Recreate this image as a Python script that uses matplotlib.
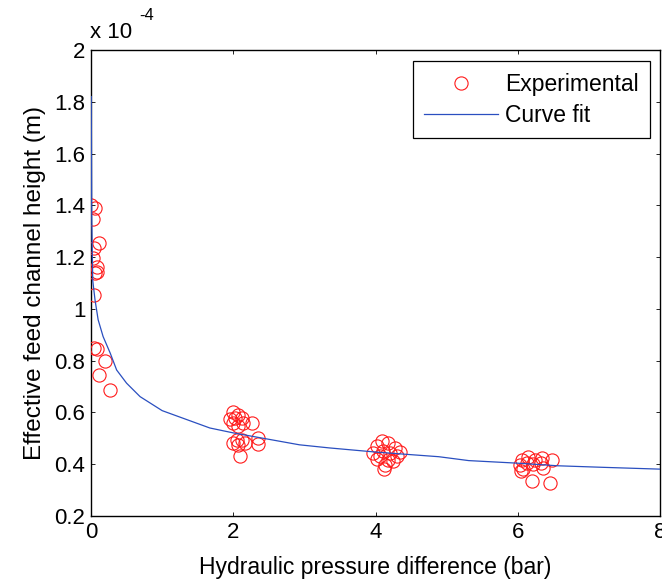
#Effective feed channel height vs hydraulic pressure difference
import matplotlib
matplotlib.use('Agg')
import matplotlib.pyplot as plt

plt.rcParams['font.family'] = ['Liberation Sans', 'DejaVu Sans']

# experimental points (pressure in bar, height in units of 1e-4 m)
exp_dp = [0.00, 0.056, 0.033, 0.117, 0.042, 0.033, 0.08, 0.089, 0.056, 0.042, 0.042, 0.08, 0.197, 0.117, 0.267,
          1.99, 1.955, 2.07, 2.025, 2.12, 2.00, 2.14, 2.26, 2.07, 2.05, 2.12, 2.00, 2.07, 2.17, 2.35, 2.35, 2.10,
          4.09, 4.18, 4.02, 4.28, 4.35, 3.97, 4.11, 4.21, 4.06, 4.30, 4.02, 4.18, 4.25, 4.14, 4.12,
          6.06, 6.15, 6.24, 6.34, 6.48, 6.03, 6.13, 6.22, 6.32, 6.08, 6.36, 6.04, 6.20, 6.46]
exp_h = [1.402, 1.389, 1.346, 1.254, 1.234, 1.196, 1.161, 1.144, 1.138, 1.054, 0.848, 0.844, 0.797, 0.745, 0.687,
         0.600, 0.574, 0.591, 0.578, 0.578, 0.559, 0.559, 0.561, 0.546, 0.494, 0.494, 0.481, 0.475, 0.481, 0.501, 0.479, 0.430,
         0.488, 0.481, 0.469, 0.462, 0.449, 0.443, 0.453, 0.443, 0.430, 0.432, 0.420, 0.417, 0.411, 0.398, 0.381,
         0.418, 0.428, 0.418, 0.424, 0.418, 0.398, 0.404, 0.401, 0.404, 0.381, 0.385, 0.375, 0.336, 0.329]

# curve fit
fit_dp = [0.003, 0.01, 0.024, 0.056, 0.10, 0.17, 0.27, 0.36, 0.5, 0.69, 1.0, 1.67, 2.0, 2.93, 3.35,
          4.0, 4.89, 5.31, 6.0, 6.56, 7.2, 8.0]
fit_h = [1.82, 1.35, 1.11, 1.035, 0.958, 0.893, 0.829, 0.764, 0.713, 0.661, 0.607, 0.54, 0.521, 0.475, 0.463,
         0.447, 0.429, 0.414, 0.404, 0.394, 0.388, 0.381]

x_ticks = [0, 2, 4, 6, 8]
y_ticks = [0.2, 0.4, 0.6, 0.8, 1.0, 1.2, 1.4, 1.6, 1.8, 2.0]

fig = plt.figure(figsize=(6.62, 5.82), dpi=100)
ax = fig.add_axes([0.1375, 0.1134, 0.8595, 0.8007])

ax.plot(exp_dp, exp_h, 'o', markerfacecolor='none', markeredgecolor='#ff1a1a',
        markersize=9.5, markeredgewidth=0.8, label='Experimental', zorder=3)
ax.plot(fit_dp, fit_h, '-', color='#2a4fc0', linewidth=0.9, label='Curve fit', zorder=3)

ax.set_xlim(0, 8)
ax.set_ylim(0.2, 2.0)
ax.set_xticks(x_ticks)
ax.set_yticks(y_ticks)
ax.set_yticklabels(['%g' % v for v in y_ticks])
ax.tick_params(direction='in', top=True, right=True, length=3, width=0.6, labelsize=16, pad=4)
for s in ax.spines.values():
    s.set_linewidth(1.0)

ax.set_xlabel('Hydraulic pressure difference (bar)', fontsize=16.5, labelpad=10)
ax.set_ylabel('Effective feed channel height (m)', fontsize=17.5, labelpad=6)

# the x 10^-4 multiplier
fig.text(90 / 662, 1 - 33 / 582, 'x 10', fontsize=16, va='center', ha='left')
fig.text(139 / 662, 1 - 16 / 582, '-4', fontsize=12, va='center', ha='left')

leg = ax.legend(loc='upper right', bbox_to_anchor=(0.982, 0.976), fancybox=False, framealpha=1,
                edgecolor='black', fontsize=16.5, handlelength=3.2, handletextpad=0.3,
                labelspacing=0.35, borderpad=0.5, borderaxespad=0)
leg.get_frame().set_linewidth(0.9)

fig.savefig('out.png', dpi=100)
